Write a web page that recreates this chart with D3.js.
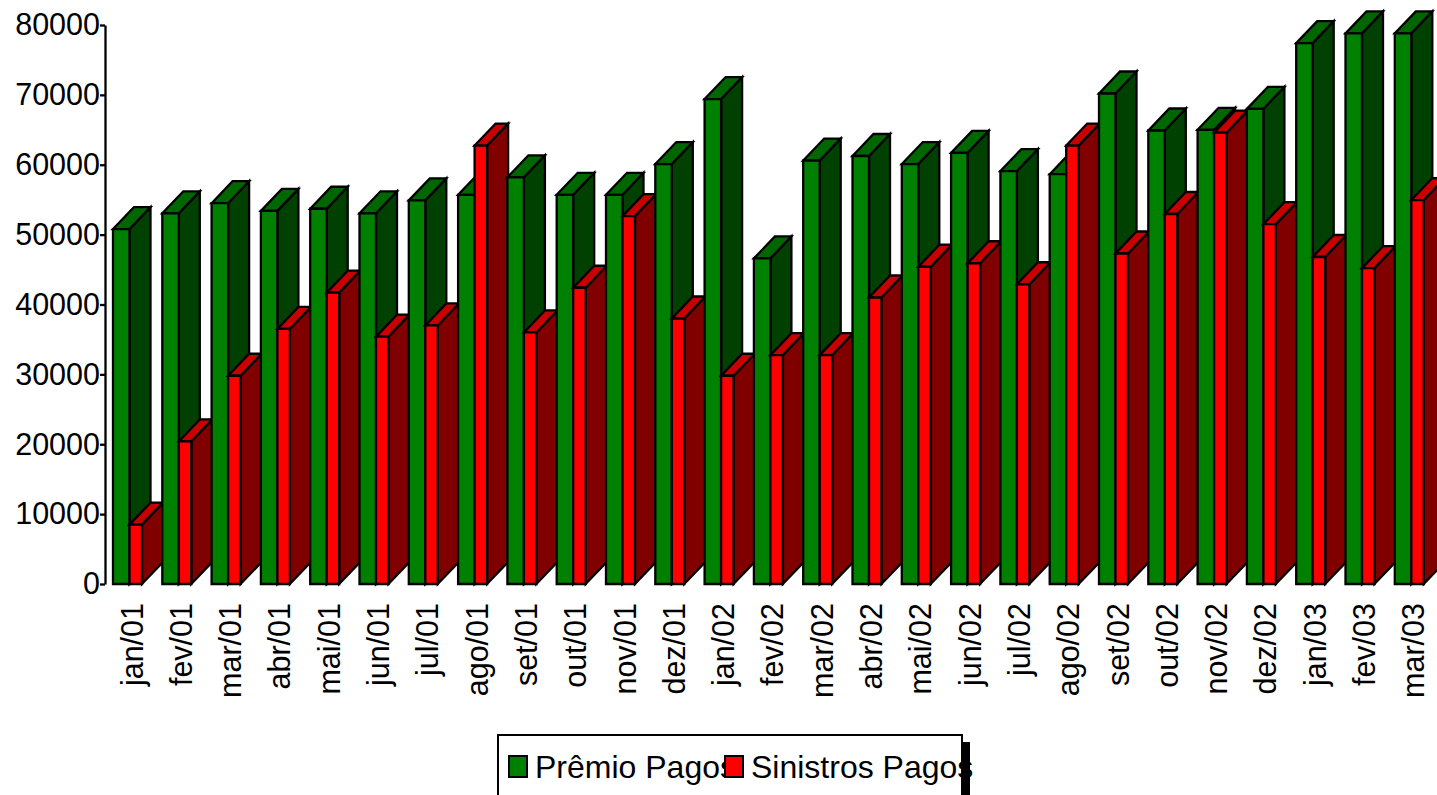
<!DOCTYPE html>
<html lang="pt">
<head>
    <meta charset="UTF-8">
    <title>Prêmio x Sinistros</title>
    <script src="https://d3js.org/d3.v7.min.js"></script>
    <style>
        body{ margin:0; background:#fff; }
        text{ font-family: "Liberation Sans", Arial, sans-serif; }
    </style>
</head>
<body>
<svg id="main" width="1437" height="795"></svg>
<script>
    // data
    let months = ['jan/01','fev/01','mar/01','abr/01','mai/01','jun/01','jul/01','ago/01','set/01',
        'out/01','nov/01','dez/01','jan/02','fev/02','mar/02','abr/02','mai/02','jun/02','jul/02',
        'ago/02','set/02','out/02','nov/02','dez/02','jan/03','fev/03','mar/03'];
    let premio = [50800, 53050, 54500, 53400, 53700, 53050, 54900, 55700, 58200,
        55700, 55700, 60100, 69400, 46600, 60600, 61250, 60100, 61700, 59100,
        58650, 70200, 64900, 65000, 68000, 77400, 78800, 78800];
    let sinistros = [8500, 20400, 29800, 36500, 41700, 35400, 37000, 62750, 36000,
        42400, 52650, 38000, 29800, 32750, 32750, 41000, 45400, 45900, 42900,
        62750, 47300, 52950, 64600, 51500, 46800, 45200, 54950];
    let yTicks = [0, 10000, 20000, 30000, 40000, 50000, 60000, 70000, 80000];
    let seriesNames = ['Prêmio Pagos', 'Sinistros Pagos'];

    let colors = [
        {front:'#008000', top:'#006600', side:'#004000'},
        {front:'#ff0000', top:'#c80000', side:'#800000'}
    ];
    let depth = {dx: 21, dy: 22};
    let widths = [16.5, 12.5];

    let svg = d3.select('#main');
    let x = d3.scaleBand().domain(months).range([113, 113 + months.length * 49.3]);
    let y = d3.scaleLinear().domain([0, 80000]).range([584, 25]);

    // one box per bar: front, top and side faces
    function box(g, x0, w, v, c){
        let y0 = y(0), y1 = y(v), dx = depth.dx, dy = depth.dy;
        let pts = {
            side: [[x0+w, y1],[x0+w+dx, y1-dy],[x0+w+dx, y0-dy],[x0+w, y0]],
            top: [[x0, y1],[x0+dx, y1-dy],[x0+w+dx, y1-dy],[x0+w, y1]],
            front: [[x0, y1],[x0+w, y1],[x0+w, y0],[x0, y0]]
        };
        ['side','top','front'].forEach(function(k){
            g.append('polygon')
                .attr('points', pts[k].map(p => p.join(',')).join(' '))
                .attr('fill', c[k])
                .attr('stroke', '#000')
                .attr('stroke-width', 2.3)
                .attr('stroke-linejoin', 'miter');
        });
    }

    let bars = svg.append('g');
    months.forEach(function(m, i){
        let g = bars.append('g');
        box(g, x(m), widths[0], premio[i], colors[0]);
        box(g, x(m) + widths[0], widths[1], sinistros[i], colors[1]);
    });

    // y axis
    let yAxis = svg.append('g')
        .attr('transform', 'translate(105,0)')
        .call(d3.axisLeft(y).tickValues(yTicks).tickSize(5).tickSizeOuter(0).tickPadding(0)
            .tickFormat(d3.format('d')));
    yAxis.select('.domain').attr('stroke-width', 2.3);
    yAxis.selectAll('.tick line').attr('stroke-width', 2.3);
    yAxis.selectAll('text').attr('font-size', 30.5).attr('fill', '#000')
        .style('font-family', '"Liberation Sans", Arial, sans-serif');

    // category labels
    svg.append('g').selectAll('text')
        .data(months)
        .join('text')
        .attr('transform', d => 'translate(' + (x(d) + 29.5) + ',603) rotate(-90)')
        .attr('text-anchor', 'end')
        .attr('font-size', 30.5)
        .text(d => d);

    // legend
    let lg = svg.append('g');
    lg.append('rect').attr('x', 498).attr('y', 735).attr('width', 464).attr('height', 80)
        .attr('fill', '#fff').attr('stroke', '#000').attr('stroke-width', 2);
    let legendX = [509, 725];
    seriesNames.forEach(function(s, i){
        lg.append('rect').attr('x', legendX[i]).attr('y', 756).attr('width', 18).attr('height', 21)
            .attr('fill', colors[i].front).attr('stroke', '#000').attr('stroke-width', 2);
        lg.append('text').attr('x', legendX[i] + 26).attr('y', 778)
            .attr('font-size', 32).text(s);
    });
    lg.append('rect').attr('x', 962).attr('y', 742).attr('width', 8).attr('height', 60).attr('fill', '#000');
</script>
</body>
</html>
